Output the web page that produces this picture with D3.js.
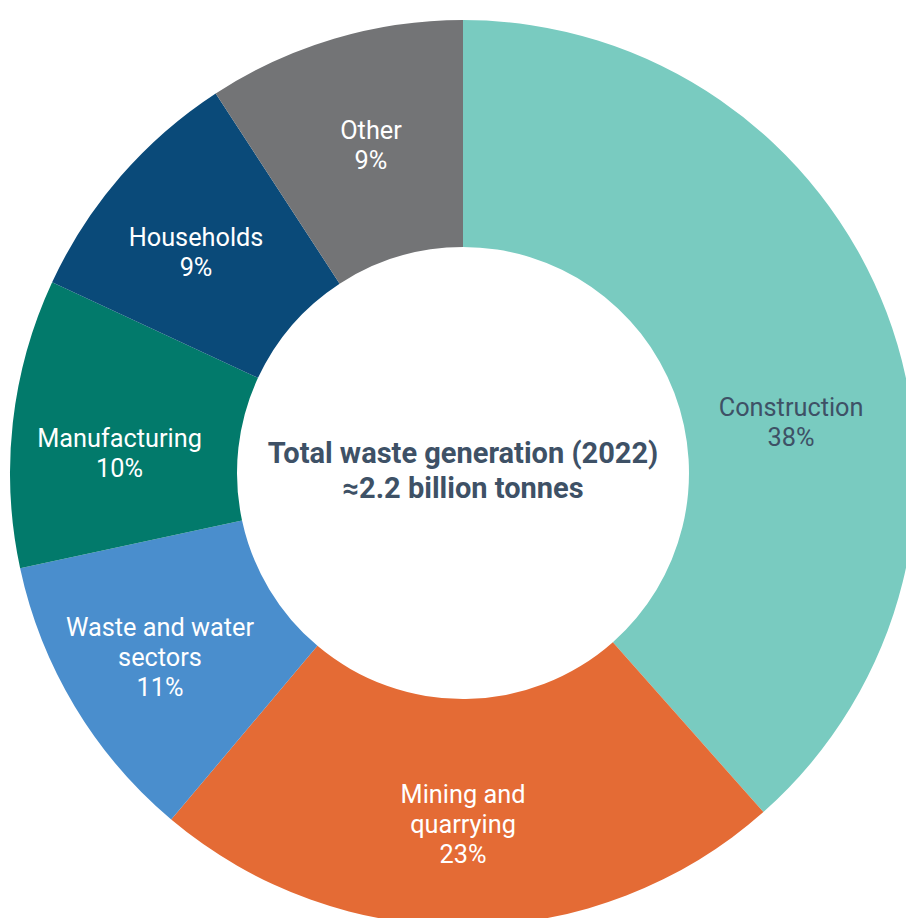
<!DOCTYPE html>
<html>
<head>
<meta charset="utf-8">
<script src="https://cdn.jsdelivr.net/npm/d3@7"></script>
<style>
  html, body { margin: 0; padding: 0; background: #ffffff; }
  svg { display: block; }
</style>
</head>
<body>
<svg id="chart" width="906" height="918"></svg>
<script>
// ---- Data ----
const categories = ["Construction", "Mining and quarrying", "Waste and water sectors", "Manufacturing", "Households", "Other"];
const shares = [38.5, 22.7, 10.5, 10.3, 8.9, 9.2];
const percentLabels = ["38%", "23%", "11%", "10%", "9%", "9%"];
const labelLines = [["Construction"], ["Mining and", "quarrying"], ["Waste and water", "sectors"], ["Manufacturing"], ["Households"], ["Other"]];
const centerTitle = ["Total waste generation (2022)", "\u22482.2 billion tonnes"];

// ---- Styling ----
const colors = ["#79cbc0", "#e46b35", "#4a8ecd", "#027a6b", "#0a4a79", "#737476"];
const labelColors = ["#3e5166", "#ffffff", "#ffffff", "#ffffff", "#ffffff", "#ffffff"];
const darkText = "#3e5166";
const fontFamily = "Roboto, 'Noto Sans', Arial, sans-serif";

const width = 906, height = 918;
const cx = 463, cy = 473;
const outerR = 453, innerR = 226;
const lineH = 30;
// Label placement (angle in degrees clockwise from 12 o'clock, radius) per slice
const labelAngles = [81.2, 180, 238.6, 273.3, 309.5, 344.3];
const labelRadii = [332, 351, 355, 344, 346, 340];

const data = categories.map((c, i) => ({
  category: c, value: shares[i], pct: percentLabels[i],
  lines: labelLines[i].concat([percentLabels[i]]),
  color: colors[i], textColor: labelColors[i],
  la: labelAngles[i] * Math.PI / 180, lr: labelRadii[i]
}));

const svg = d3.select("#chart");
const g = svg.append("g").attr("transform", `translate(${cx},${cy})`);

const pie = d3.pie().value(d => d.value).sort(null).startAngle(0).endAngle(2 * Math.PI);
const arc = d3.arc().innerRadius(innerR).outerRadius(outerR);
const arcs = pie(data);

g.selectAll("path.slice")
  .data(arcs)
  .join("path")
  .attr("class", "slice")
  .attr("d", arc)
  .attr("fill", d => d.data.color)
  .attr("stroke", "none");

// labels
const lbl = g.selectAll("g.label")
  .data(arcs)
  .join("g")
  .attr("class", "label")
  .attr("transform", d => `translate(${d.data.lr * Math.sin(d.data.la)},${-d.data.lr * Math.cos(d.data.la)})`);

lbl.each(function(d) {
  const n = d.data.lines.length;
  const t = d3.select(this).append("text")
    .attr("text-anchor", "middle")
    .attr("font-family", fontFamily)
    .attr("font-size", 25.3)
    .attr("fill", d.data.textColor);
  d.data.lines.forEach((line, i) => {
    t.append("tspan")
      .attr("x", 0)
      .attr("y", (i - (n - 1) / 2) * lineH + 8.5)
      .text(line);
  });
});

// center title
const ct = g.append("text")
  .attr("text-anchor", "middle")
  .attr("font-family", fontFamily)
  .attr("font-weight", 700)
  .attr("font-size", 29)
  .attr("fill", darkText);
centerTitle.forEach((line, i) => {
  ct.append("tspan").attr("x", 0).attr("y", -10 + i * 35).text(line);
});
</script>
</body>
</html>
